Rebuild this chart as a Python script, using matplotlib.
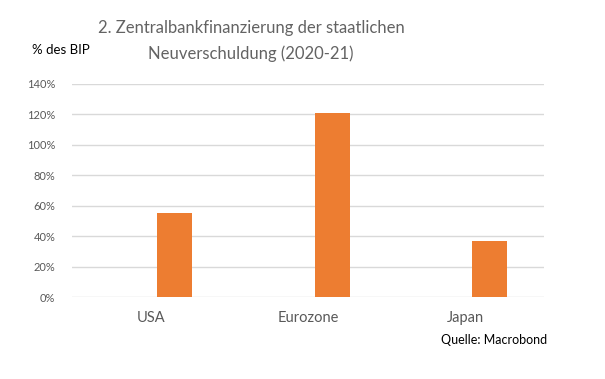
import numpy as np
import matplotlib.pyplot as plt

plt.rcParams['font.family'] = ['Lato', 'DejaVu Sans']

laender = ['USA', 'Eurozone', 'Japan']
leer = [np.nan, np.nan, np.nan]          # first (empty) series of the original chart
anteil = [55.5, 120.7, 36.7]             # % des BIP
y_ticks = [0, 20, 40, 60, 80, 100, 120, 140]

fig = plt.figure(figsize=(6.05, 3.79), dpi=100)
ax = fig.add_axes([72 / 605, 1 - 297 / 379, (544 - 72) / 605, (297 - 84) / 379])

x = np.arange(len(laender))
w = 0.223
ax.bar(x - 0.153, leer, w, color='#4472c4')
ax.bar(x + 0.153, anteil, w, color='#ed7d31', zorder=3)

ax.set_xlim(-0.5, 2.5)
ax.set_ylim(0, 140)
ax.set_yticks(y_ticks)
ax.set_yticklabels([f'{t}%' for t in y_ticks])
ax.set_xticks(x)
ax.set_xticklabels(laender)
ax.grid(axis='y', color='#d9d9d9', linewidth=1, zorder=0)
ax.set_axisbelow(True)
for s in ax.spines.values():
    s.set_visible(False)
ax.tick_params(axis='y', length=0, pad=12, labelsize=8, labelcolor='#595959')
ax.tick_params(axis='x', length=0, pad=10, labelsize=10.5, labelcolor='#595959')

fig.text(251 / 605, 1 - 28 / 379, '2. Zentralbankfinanzierung der staatlichen',
         ha='center', va='center', fontsize=12, color='#636363')
fig.text(251 / 605, 1 - 54 / 379, 'Neuverschuldung (2020-21)',
         ha='center', va='center', fontsize=12, color='#636363')
fig.text(32 / 605, 1 - 50 / 379, '% des BIP', ha='left', va='center',
         fontsize=9.5, color='black')
fig.text(547 / 605, 1 - 340 / 379, 'Quelle: Macrobond', ha='right', va='center',
         fontsize=9, color='black')

fig.savefig('out.png', dpi=100)
